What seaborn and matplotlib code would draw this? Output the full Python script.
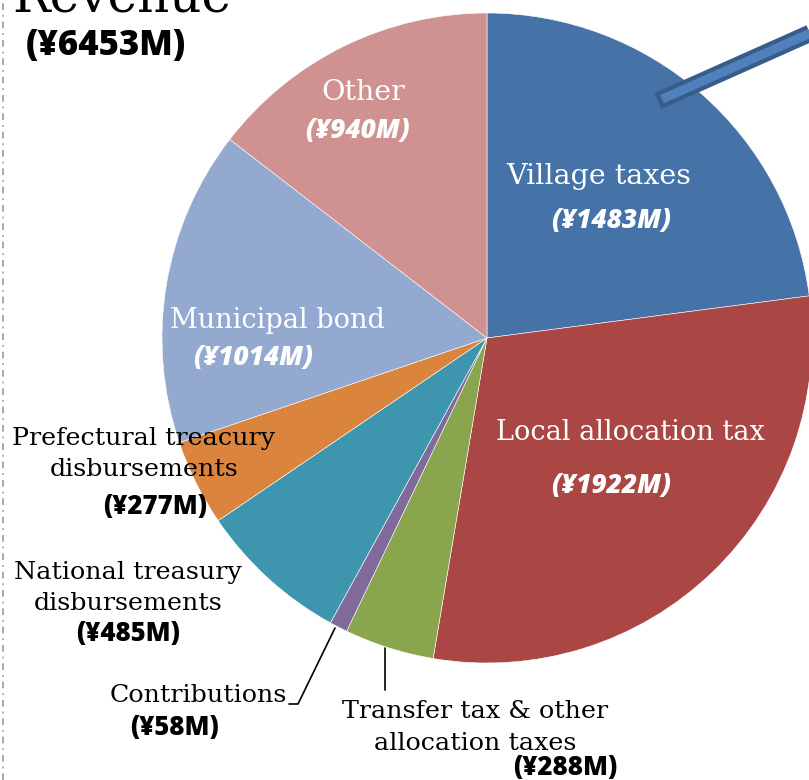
import matplotlib.pyplot as plt
import seaborn as sns

# revenue breakdown, clockwise from 12 o'clock (¥ million)
categories = [
    "Village taxes",
    "Local allocation tax",
    "Transfer tax & other\nallocation taxes",
    "Contributions",
    "National treasury\ndisbursements",
    "Prefectural treacury\ndisbursements",
    "Municipal bond",
    "Other",
]
values = [1483, 1922, 288, 58, 485, 277, 1014, 940]
total = 6453
colors = ["#4572A7", "#AA4643", "#89A54E", "#80699B", "#3D96AE",
          "#DB843D", "#93A9D0", "#D09191"]

sns.set_theme(style="white")
SERIF = ["DejaVu Serif"]
BOLD = ["Open Sans", "DejaVu Sans"]

W, H = 809, 780
fig = plt.figure(figsize=(W / 100, H / 100), dpi=100)
ax = fig.add_axes([0, 0, 1, 1])
ax.set_aspect("equal")

cx, cy, r = 487, H - 338, 325
ax.pie(
    values,
    colors=sns.color_palette(colors),
    startangle=90,
    counterclock=False,
    center=(cx, cy),
    radius=r,
    frame=True,
    wedgeprops=dict(edgecolor="white", linewidth=0.4),
)
ax.set_xlim(0, W)
ax.set_ylim(0, H)
ax.axis("off")


def y(py):
    return H - py


def name(px, py, txt, color="black", size=19.5):
    ax.text(px, y(py), txt, ha="center", va="center", color=color,
            family=SERIF, fontsize=size, linespacing=1.5)


def amount(px, py, v, color="black", size=18.5, style="normal"):
    ax.text(px, y(py), f"(¥{v}M)", ha="center", va="center", color=color,
            family=BOLD, fontsize=size, fontweight="heavy", style=style)


# labels inside the pie
name(599, 177, categories[0], "white", 20.5)
amount(611, 221, values[0], "white", 19, style="italic")
name(630, 432, categories[1], "white")
amount(611, 486, values[1], "white", 19, style="italic")
name(277, 320, categories[6], "white")
amount(253, 358, values[6], "white", 19, style="italic")
name(363, 93, categories[7], "white", 20.5)
amount(358, 131, values[7], "white", 19, style="italic")

# labels outside
name(144, 454, categories[5], size=18.3)
amount(155, 507, values[5])
name(128, 588, categories[4], size=18.3)
amount(128, 634, values[4])
name(198, 695, categories[3], size=18.3)
amount(175, 728, values[3])
name(475, 727, categories[2], size=18.3)
amount(565, 768, values[2])

# leader lines
ax.plot([289, 298, 335], [y(704), y(704), y(628)], color="black", lw=1.2)
ax.plot([385, 385], [y(648), y(690)], color="black", lw=1.2)

# title
ax.text(12, y(11), "Revenue", ha="left", va="baseline", family=SERIF,
        fontsize=36, color="black")
ax.text(26, y(46), f"(¥{total}M)", ha="left", va="center", family=BOLD,
        fontsize=25, fontweight="heavy", color="black")

# dashed frame edge on the left
ax.plot([3, 3], [0, H], color="#999999", lw=1.2, ls=(0, (4, 3, 1, 3)))

# pointer bar at top right
ax.plot([658, 815], [y(101), y(31)], color="#385D8A", lw=12.5,
        solid_capstyle="butt")
ax.plot([662, 815], [y(99.2), y(31)], color="#4F81BD", lw=6.5,
        solid_capstyle="butt")

fig.savefig("out.png", dpi=100)
